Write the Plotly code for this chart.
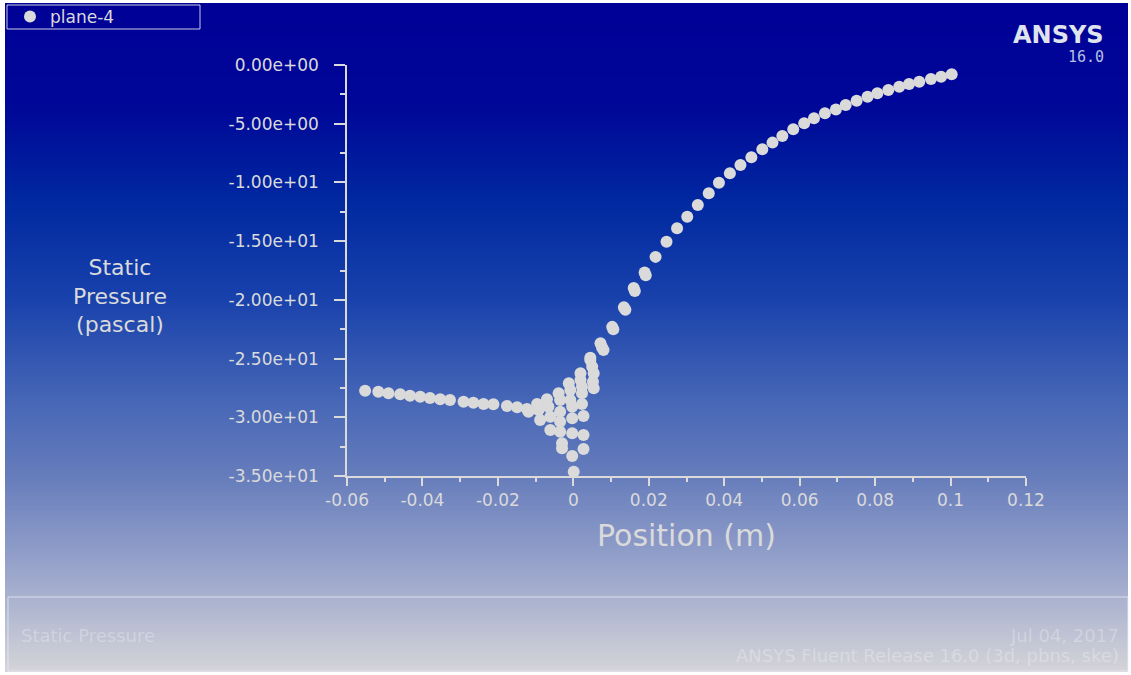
import plotly.graph_objects as go

# ---- data: static pressure sampled on plane-4 ----
# upstream branch
x_up = [-0.0552, -0.0517, -0.0490, -0.0459, -0.0433, -0.0406, -0.0380, -0.0353,
        -0.0327, -0.0291, -0.0265, -0.0238, -0.0212, -0.0176, -0.0149, -0.0123]
p_up = [-27.74, -27.82, -27.96, -28.04, -28.16, -28.25, -28.36, -28.47,
        -28.53, -28.67, -28.76, -28.87, -28.89, -29.04, -29.15, -29.29]

# scattered samples around the centre of the plane
x_mid = [-0.0119, -0.0096, -0.0092, -0.0088, -0.0070, -0.0066, -0.0061, -0.0061,
         -0.0039, -0.0035, -0.0035, -0.0035, -0.0035, -0.0030, -0.0030,
         -0.0012, -0.0008, -0.0008, -0.0003, -0.0003, -0.0003, -0.0003, 0.0001,
         0.0019, 0.0019, 0.0023, 0.0023, 0.0023, 0.0027, 0.0027, 0.0027,
         0.0045, 0.0050, 0.0054, 0.0052, 0.0054, 0.0072, 0.0080]
p_mid = [-29.52, -28.87, -29.38, -30.23, -28.47, -29.10, -29.95, -31.08,
         -27.96, -28.53, -29.52, -30.38, -31.23, -32.22, -32.64,
         -27.11, -27.68, -28.53, -29.10, -30.09, -31.36, -33.30, -34.63,
         -26.25, -26.82, -27.39, -27.96, -28.87, -29.89, -31.51, -32.70,
         -25.12, -25.69, -26.25, -26.97, -27.53, -23.70, -24.27]

# downstream recovery
x_down = [0.0045, 0.0076, 0.0103, 0.0106, 0.0134, 0.0138, 0.0160, 0.0163, 0.0189,
          0.0192, 0.0218, 0.0247, 0.0275, 0.0302, 0.0330, 0.0359, 0.0386, 0.0415,
          0.0443, 0.0472, 0.0501, 0.0528, 0.0554, 0.0583, 0.0612, 0.0638, 0.0667,
          0.0696, 0.0722, 0.0751, 0.0780, 0.0806, 0.0835, 0.0864, 0.0890, 0.0917,
          0.0948, 0.0975, 0.1003]
p_down = [-24.92, -24.04, -22.30, -22.50, -20.62, -20.85, -19.00, -19.25, -17.68,
          -17.90, -16.34, -15.05, -13.91, -12.92, -11.92, -10.92, -10.02, -9.22,
          -8.52, -7.86, -7.18, -6.61, -6.05, -5.48, -4.97, -4.54, -4.11,
          -3.78, -3.41, -3.04, -2.70, -2.41, -2.13, -1.85, -1.62, -1.42,
          -1.19, -1.00, -0.79]

x_ticks = [-0.06, -0.04, -0.02, 0, 0.02, 0.04, 0.06, 0.08, 0.10, 0.12]
x_ticktext = ["-0.06", "-0.04", "-0.02", "0", "0.02", "0.04", "0.06", "0.08", "0.1", "0.12"]
y_ticks = [0, -5, -10, -15, -20, -25, -30, -35]
y_ticktext = ["0.00e+00", "-5.00e+00", "-1.00e+01", "-1.50e+01", "-2.00e+01",
              "-2.50e+01", "-3.00e+01", "-3.50e+01"]

# ---- page geometry (pixels) ----
W, H = 1131, 675
L, R, T, B = 347, 1026, 65, 476
PW, PH = R - L, B - T


def px(x):
    return (x - L) / PW


def py(y):
    return (B - y) / PH


FG = "#dadada"
FONT = "DejaVu Sans"

fig = go.Figure()
fig.add_trace(go.Scatter(
    x=x_up + x_mid + x_down,
    y=p_up + p_mid + p_down,
    mode="markers",
    name="plane-4",
    marker=dict(color=FG, size=12, line=dict(width=0)),
))

# vertical background gradient, built from thin bands
stops = [(3, (0, 0, 150)), (110, (0, 8, 152)), (200, (0, 40, 160)),
         (300, (25, 66, 172)), (400, (70, 102, 182)), (480, (104, 126, 188)),
         (560, (148, 160, 202)), (672, (212, 212, 216))]


def grad(y):
    for (y0, c0), (y1, c1) in zip(stops[:-1], stops[1:]):
        if y0 <= y <= y1:
            t = (y - y0) / (y1 - y0)
            return "rgb(%d,%d,%d)" % tuple(round(a + (b - a) * t) for a, b in zip(c0, c1))
    return "rgb(%d,%d,%d)" % stops[-1][1]


shapes = []
step = 2
for y in range(3, 672, step):
    shapes.append(dict(type="rect", xref="paper", yref="paper", layer="below",
                       x0=px(5), x1=px(1128), y0=py(min(y + step + 0.6, 672)), y1=py(y),
                       fillcolor=grad(y + step / 2), line=dict(width=0)))

# legend frame
shapes.append(dict(type="rect", xref="paper", yref="paper", layer="above",
                   x0=px(7), x1=px(200), y0=py(29), y1=py(5),
                   fillcolor="rgba(0,0,0,0)", line=dict(color="#c8cce0", width=1)))
# footer frame
shapes.append(dict(type="rect", xref="paper", yref="paper", layer="above",
                   x0=px(8), x1=px(1128), y0=py(671), y1=py(597),
                   fillcolor="rgba(0,0,0,0)", line=dict(color="rgba(235,238,248,0.75)", width=1)))

annotations = []
# vertical axis title
annotations.append(dict(text="Static<br>Pressure<br>(pascal)", x=px(120), y=py(296),
                        xref="paper", yref="paper", xanchor="center", yanchor="middle",
                        showarrow=False, align="center",
                        font=dict(family=FONT, size=22, color=FG)))
# product badge
annotations.append(dict(text="<b>ANSYS</b>", x=px(1106), y=py(51), xref="paper", yref="paper",
                        xanchor="right", yanchor="bottom", showarrow=False,
                        font=dict(family=FONT, size=24, color="#dfe3ee")))
annotations.append(dict(text="16.0", x=px(1106), y=py(46), xref="paper", yref="paper",
                        xanchor="right", yanchor="top", showarrow=False,
                        font=dict(family="DejaVu Sans Mono", size=15, color="#b4c0e4")))
# footer captions
FOOT = "rgba(255,255,255,0.28)"
annotations.append(dict(text="Static Pressure", x=px(19), y=py(635), xref="paper", yref="paper",
                        xanchor="left", yanchor="middle", showarrow=False,
                        font=dict(family=FONT, size=18, color=FOOT)))
annotations.append(dict(text="Jul 04, 2017", x=px(1121), y=py(635), xref="paper", yref="paper",
                        xanchor="right", yanchor="middle", showarrow=False,
                        font=dict(family=FONT, size=18, color=FOOT)))
annotations.append(dict(text="ANSYS Fluent Release 16.0 (3d, pbns, ske)", x=px(1121), y=py(655),
                        xref="paper", yref="paper", xanchor="right", yanchor="middle",
                        showarrow=False, font=dict(family=FONT, size=18, color=FOOT)))

fig.update_layout(
    width=W, height=H,
    margin=dict(l=L, r=W - R, t=T, b=H - B, pad=0, autoexpand=False),
    paper_bgcolor="white",
    plot_bgcolor="rgba(0,0,0,0)",
    shapes=shapes,
    annotations=annotations,
    showlegend=True,
    legend=dict(xref="container", yref="container", x=10 / W, y=1 - 17 / H,
                xanchor="left", yanchor="middle",
                bgcolor="rgba(0,0,0,0)", borderwidth=0,
                font=dict(family=FONT, size=17, color=FG), itemsizing="constant"),
    xaxis=dict(range=[-0.06, 0.12], tickvals=x_ticks, ticktext=x_ticktext, automargin=False,
               showgrid=False, zeroline=False, showline=True, linecolor=FG, linewidth=1.5,
               ticks="outside", ticklen=8, tickcolor=FG, tickwidth=1.5,
               minor=dict(dtick=0.01, ticks="outside", ticklen=4, tickcolor=FG, tickwidth=1.5),
               tickfont=dict(family=FONT, size=17, color=FG),
               title=dict(text="Position (m)", standoff=16,
                          font=dict(family=FONT, size=30, color=FG))),
    yaxis=dict(range=[-35, 0], tickvals=y_ticks, ticktext=y_ticktext, automargin=False,
               showgrid=False, zeroline=False, showline=True, linecolor=FG, linewidth=1.5,
               ticks="outside", ticklen=11, tickcolor=FG, tickwidth=1.5,
               minor=dict(dtick=2.5, ticks="outside", ticklen=5, tickcolor=FG, tickwidth=1.5),
               tickfont=dict(family=FONT, size=17, color=FG), ticklabelstandoff=12),
)

fig.write_html("out.html")
